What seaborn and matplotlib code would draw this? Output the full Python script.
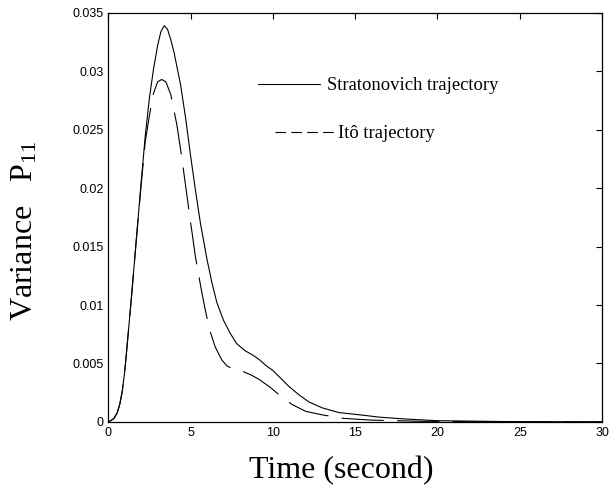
import matplotlib
matplotlib.use("Agg")
import matplotlib.pyplot as plt
from matplotlib.lines import Line2D
import seaborn as sns
import pandas as pd

# values
t_strat = [0, 0.15, 0.35, 0.55, 0.7, 0.85, 1.0, 1.1, 1.4, 1.7, 2.0, 2.25, 2.5, 2.75, 3.0,
           3.2, 3.4, 3.6, 3.8, 4.0, 4.2, 4.4, 4.7, 5.0, 5.3, 5.6, 6.0, 6.3, 6.6, 7.0, 7.4,
           7.8, 8.3, 8.8, 9.2, 9.6, 10.0, 10.5, 11.0, 11.6, 12.2, 13.0, 14.0, 15.3, 16.5,
           18.0, 20.0, 24.0, 30.0]
p_strat = [0, 0.0001, 0.0003, 0.0008, 0.0015, 0.0026, 0.0043, 0.0058, 0.0105, 0.0155,
           0.0205, 0.0245, 0.0277, 0.0302, 0.0322, 0.0334, 0.0339, 0.0336, 0.0327, 0.0316,
           0.0302, 0.0288, 0.0260, 0.0228, 0.0198, 0.0170, 0.0139, 0.0119, 0.0102, 0.0087,
           0.0076, 0.0067, 0.0061, 0.0057, 0.0053, 0.0048, 0.0044, 0.0037, 0.0030, 0.0023,
           0.0017, 0.0012, 0.0008, 0.0006, 0.0004, 0.00025, 0.0001, 0.00003, 0.0]
t_ito = [0, 0.15, 0.35, 0.55, 0.7, 0.85, 1.0, 1.1, 1.4, 1.7, 2.0, 2.25, 2.5, 2.75, 3.0,
         3.25, 3.5, 3.8, 4.17, 4.45, 4.7, 5.0, 5.3, 5.5, 5.75, 5.95, 6.2, 6.5, 6.9, 7.2,
         7.6, 8.2, 8.7, 9.2, 9.8, 10.4, 11.15, 12.0, 13.0, 14.3, 16.0, 19.0, 24.0, 30.0]
p_ito = [0, 0.0001, 0.0003, 0.0008, 0.0015, 0.0026, 0.0043, 0.0058, 0.0105, 0.0155,
         0.0203, 0.0240, 0.0262, 0.0281, 0.0291, 0.0293, 0.0291, 0.0280, 0.0254, 0.0228,
         0.0202, 0.0171, 0.0141, 0.0125, 0.0106, 0.0092, 0.0077, 0.0064, 0.0053, 0.0048,
         0.0045, 0.0043, 0.0040, 0.0036, 0.0030, 0.0023, 0.0015, 0.0009, 0.0006, 0.0003,
         0.00015, 0.00005, 0.0, 0.0]

xticks = [0, 5, 10, 15, 20, 25, 30]
yticks = [0, 0.005, 0.01, 0.015, 0.02, 0.025, 0.03, 0.035]
ytick_labels = ["0", "0.005", "0.01", "0.015", "0.02", "0.025", "0.03", "0.035"]

df_s = pd.DataFrame({"t": t_strat, "p": p_strat})
df_i = pd.DataFrame({"t": t_ito, "p": p_ito})

sns.set_style("white")
plt.rcParams["font.family"] = ["Liberation Sans", "DejaVu Sans"]
plt.rcParams["mathtext.fontset"] = "custom"
plt.rcParams["mathtext.rm"] = "Liberation Serif"
plt.rcParams["text.color"] = "black"
plt.rcParams["axes.labelcolor"] = "black"

fig = plt.figure(figsize=(6.15, 4.94), dpi=100)
ax = fig.add_axes([0.176, 0.146, 0.803, 0.828])

sns.lineplot(data=df_s, x="t", y="p", ax=ax, color="black", linewidth=0.8)
sns.lineplot(data=df_i, x="t", y="p", ax=ax, color="black", linewidth=0.8)
ax.lines[1].set_dashes([38, 12])

ax.set_xlim(0, 30)
ax.set_ylim(0, 0.035)
ax.set_xticks(xticks)
ax.set_yticks(yticks)
ax.set_yticklabels(ytick_labels)
ax.tick_params(direction="in", length=4, width=0.8, labelsize=9, top=True, right=True,
               colors="black")
for s in ax.spines.values():
    s.set_color("black")
    s.set_linewidth(0.9)

ax.set_xlabel("Time (second)", family="Liberation Serif", fontsize=23)
ax.set_ylabel("Variance   $\\mathregular{P_{11}}$", family="Liberation Serif", fontsize=23)
ax.xaxis.set_label_coords(0.471, -0.083)
ax.yaxis.set_label_coords(-0.14, 0.467)

# two one-entry legends, as the entries are not aligned in the original
leg_font = {"family": "Liberation Serif", "size": 13.4}
leg1 = ax.legend(handles=[Line2D([], [], color="black", linewidth=0.8)],
                 labels=["Stratonovich trajectory"], loc="upper left",
                 bbox_to_anchor=(0.270, 0.884), frameon=False, prop=leg_font,
                 handlelength=3.33, handletextpad=0.37)
ax.add_artist(leg1)
ax.legend(handles=[Line2D([], [], color="black", linewidth=0.8, dashes=[9.5, 4.8])],
          labels=["Itô trajectory"], loc="upper left",
          bbox_to_anchor=(0.3045, 0.7665), frameon=False, prop=leg_font,
          handlelength=3.17, handletextpad=0.2)

fig.savefig("out.png", dpi=100)
